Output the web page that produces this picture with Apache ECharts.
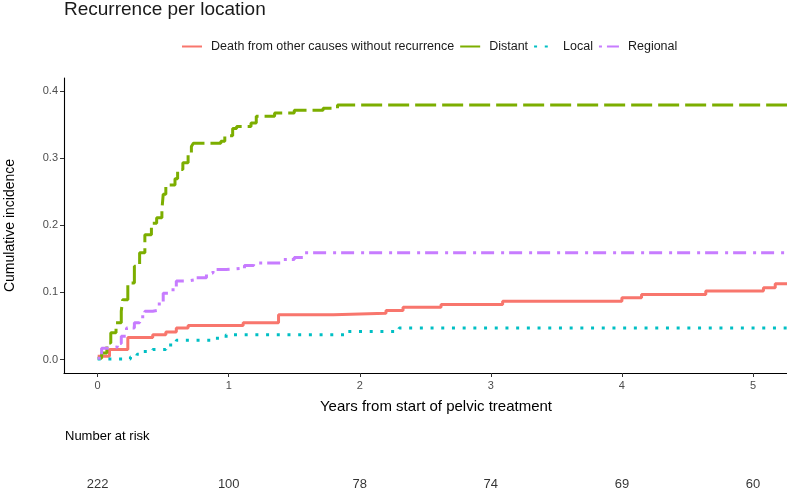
<!DOCTYPE html>
<html>
<head>
<meta charset="utf-8">
<script src="https://cdn.jsdelivr.net/npm/echarts@6/dist/echarts.min.js"></script>
<style>
html,body{margin:0;padding:0;background:#fff;}
#c{width:787px;height:488px;}
</style>
</head>
<body>
<div id="c"></div>
<script>
const seriesNames = ['Death from other causes without recurrence', 'Distant', 'Local', 'Regional'];

const deathT = [0, 0.09, 0.23, 0.42, 0.52, 0.60, 0.69, 1.11, 1.38, 1.80, 2.20, 2.33, 2.62, 3.09, 4.00, 4.15, 4.64, 5.08, 5.17, 5.42];
const deathV = [0.005, 0.015, 0.033, 0.037, 0.041, 0.047, 0.051, 0.055, 0.067, 0.069, 0.073, 0.078, 0.082, 0.087, 0.092, 0.097, 0.102, 0.107, 0.113, 0.113];

const distantT = [0, 0.03, 0.07, 0.10, 0.14, 0.18, 0.19, 0.23, 0.28, 0.32, 0.36, 0.41, 0.45, 0.49, 0.50, 0.52, 0.59, 0.61, 0.65, 0.69, 0.715, 0.73, 0.94, 0.97, 1.03, 1.06, 1.17, 1.21, 1.35, 1.50, 1.72, 1.83, 5.42];
const distantV = [0.002, 0.010, 0.025, 0.040, 0.055, 0.072, 0.089, 0.114, 0.139, 0.159, 0.186, 0.203, 0.211, 0.223, 0.246, 0.260, 0.269, 0.283, 0.293, 0.305, 0.317, 0.322, 0.325, 0.333, 0.344, 0.347, 0.352, 0.362, 0.367, 0.371, 0.374, 0.379, 0.379];

const localT = [0, 0.25, 0.30, 0.35, 0.42, 0.52, 0.60, 0.90, 0.98, 1.90, 2.30, 5.42];
const localV = [0.001, 0.004, 0.008, 0.012, 0.015, 0.022, 0.029, 0.032, 0.037, 0.042, 0.047, 0.047];

const regionalT = [0, 0.03, 0.09, 0.15, 0.18, 0.22, 0.28, 0.32, 0.36, 0.42, 0.47, 0.50, 0.56, 0.60, 0.68, 0.75, 0.83, 0.88, 0.98, 1.12, 1.19, 1.40, 1.50, 1.58, 5.42];
const regionalV = [0.002, 0.017, 0.019, 0.024, 0.035, 0.047, 0.055, 0.064, 0.072, 0.074, 0.086, 0.099, 0.104, 0.117, 0.119, 0.122, 0.129, 0.134, 0.136, 0.140, 0.144, 0.149, 0.152, 0.159, 0.159];

const xTicks = [0, 1, 2, 3, 4, 5];
const yTicks = [0, 0.1, 0.2, 0.3, 0.4];
const riskTimes = [0, 1, 2, 3, 4, 5];
const riskCounts = [222, 100, 78, 74, 69, 60];

const colors = ['#F8766D', '#7CAE00', '#00BFC4', '#C77CFF'];
const dashes = ['solid', [21, 6], [3, 7.7], [3, 5, 13, 7]];
const FONT = 'Liberation Sans, Arial, sans-serif';

function pairs(t, v) { return t.map((x, i) => [x, v[i]]); }
const allData = [pairs(deathT, deathV), pairs(distantT, distantV), pairs(localT, localV), pairs(regionalT, regionalV)];

const XMIN = -0.257, XMAX = 5.42;

const chart = echarts.init(document.getElementById('c'), null, {renderer: 'canvas'});
const option = {
  animation: false,
  backgroundColor: '#ffffff',
  title: [
    {text: 'Recurrence per location', left: 64, top: 0, padding: 0,
     textStyle: {fontFamily: FONT, fontSize: 19, fontWeight: 'normal', color: '#1a1a1a'}},
    {text: 'Number at risk', left: 65, top: 430, padding: 0,
     textStyle: {fontFamily: FONT, fontSize: 13, fontWeight: 'normal', color: '#000'}}
  ],
  legend: {
    data: seriesNames,
    left: 181, top: 40, padding: 0,
    itemWidth: 20, itemHeight: 12, itemGap: 5,
    itemStyle: {opacity: 0},
    textStyle: {fontFamily: FONT, fontSize: 12.5, color: '#1a1a1a', padding: [0, 0, 0, 4]}
  },
  grid: [
    {left: 64, right: -21, top: 78, bottom: 115, containLabel: false, outerBoundsMode: 'none'},
    {left: 64, right: -21, top: 477, height: 14, containLabel: false, outerBoundsMode: 'none'}
  ],
  xAxis: [
    {type: 'value', gridIndex: 0, min: XMIN, max: XMAX,
     name: 'Years from start of pelvic treatment', nameLocation: 'middle', nameGap: 26,
     nameTextStyle: {fontFamily: FONT, fontSize: 15, color: '#000'},
     axisLine: {show: true, onZero: false, lineStyle: {color: '#000', width: 1.1}},
     axisTick: {show: true, length: 4, lineStyle: {color: '#333'}, customValues: xTicks},
     axisLabel: {fontFamily: FONT, fontSize: 11, color: '#4D4D4D', margin: 7, customValues: xTicks},
     splitLine: {show: false}},
    {type: 'value', gridIndex: 1, min: XMIN, max: XMAX, show: false}
  ],
  yAxis: [
    {type: 'value', gridIndex: 0, min: -0.0198, max: 0.419,
     name: 'Cumulative incidence', nameLocation: 'middle', nameGap: 47,
     nameTextStyle: {fontFamily: FONT, fontSize: 14, color: '#000'},
     axisLine: {show: true, onZero: false, lineStyle: {color: '#000', width: 1.1}},
     axisTick: {show: true, length: 4, lineStyle: {color: '#333'}, customValues: yTicks},
     axisLabel: {fontFamily: FONT, fontSize: 11, color: '#4D4D4D', margin: 6,
                 customValues: yTicks, formatter: v => v.toFixed(1)},
     splitLine: {show: false}},
    {type: 'value', gridIndex: 1, min: -1, max: 1, show: false}
  ],
  series: seriesNames.map((n, i) => ({
    name: n, type: 'line', step: 'end', xAxisIndex: 0, yAxisIndex: 0,
    data: allData[i], symbol: 'none', showSymbol: false,
    color: colors[i],
    lineStyle: {color: colors[i], width: 3, type: dashes[i], cap: 'butt'},
    z: 2 + i
  })).concat([{
    name: 'risk', type: 'scatter', xAxisIndex: 1, yAxisIndex: 1,
    data: riskTimes.map((t, i) => [t, 0]),
    symbolSize: 1, itemStyle: {color: 'rgba(0,0,0,0)'},
    label: {show: true, position: 'inside', fontFamily: FONT, fontSize: 13, color: '#000',
            formatter: p => String(riskCounts[p.dataIndex])},
    silent: true
  }])
};
chart.setOption(option);
</script>
</body>
</html>
